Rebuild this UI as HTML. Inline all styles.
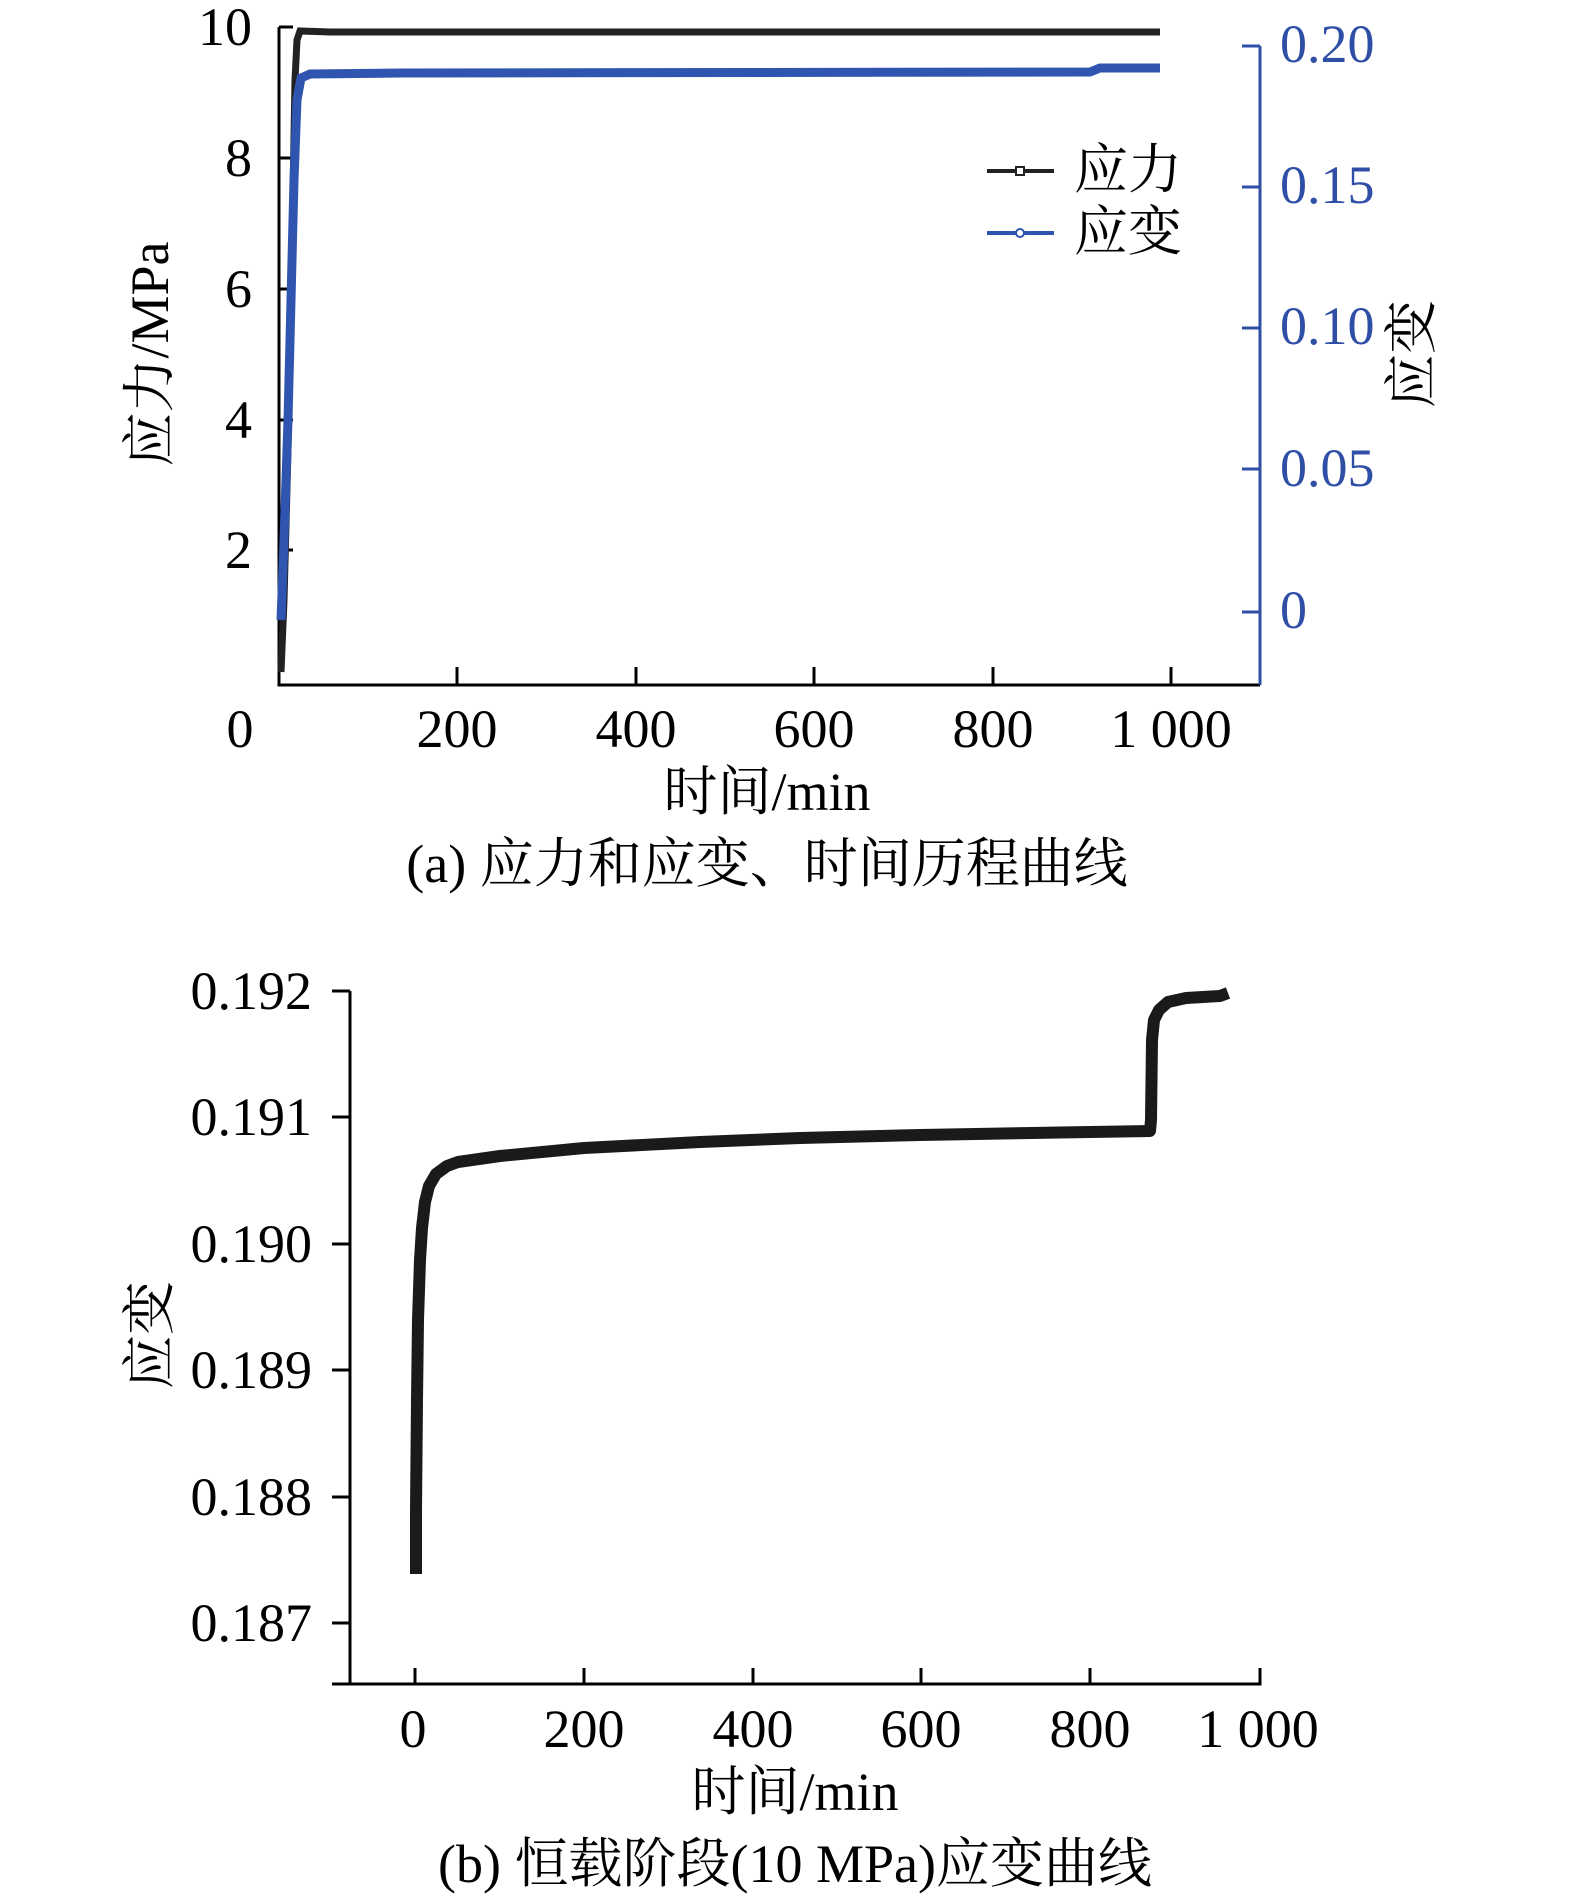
<!DOCTYPE html>
<html><head><meta charset="utf-8"><style>
html,body{margin:0;padding:0;background:#fff}
svg{display:block}
text{font-family:"Liberation Serif","Noto Serif CJK SC","Noto Sans CJK SC",serif}
</style></head><body>
<svg width="1575" height="1901" viewBox="0 0 1575 1901" xmlns="http://www.w3.org/2000/svg">
<!-- Top chart -->
<g fill="none" stroke="#000" stroke-width="3">
<path d="M279,27 V685 H1260"/>
<path d="M279,27 H293 M279,158 H293 M279,289 H293 M279,420 H293 M279,550 H293"/>
<path d="M457,685 V667 M636,685 V667 M814,685 V667 M993,685 V667 M1171,685 V667"/>
</g>
<g fill="none" stroke="#2f4ea6" stroke-width="3">
<path d="M1260,685 V46"/>
<path d="M1260,46 H1242 M1260,187 H1242 M1260,328 H1242 M1260,469 H1242 M1260,612 H1242"/>
</g>
<g font-size="54" text-anchor="end">
<text x="252" y="45">10</text><text x="252" y="176">8</text><text x="252" y="307">6</text><text x="252" y="438">4</text><text x="252" y="568">2</text>
</g>
<g font-size="54" text-anchor="middle">
<text x="240" y="747">0</text><text x="457" y="747">200</text><text x="636" y="747">400</text><text x="814" y="747">600</text><text x="993" y="747">800</text><text x="1171" y="747">1 000</text>
</g>
<g font-size="54" fill="#2f4ea6">
<text x="1280" y="62">0.20</text><text x="1280" y="203">0.15</text><text x="1280" y="344">0.10</text><text x="1280" y="486">0.05</text><text x="1280" y="628">0</text>
</g>
<text x="767" y="810" font-size="54" text-anchor="middle">时间/min</text>
<text x="767" y="882" font-size="54" text-anchor="middle">(a) 应力和应变、时间历程曲线</text>
<text transform="translate(168,354) rotate(-90)" font-size="54" text-anchor="middle">应力/MPa</text>
<text transform="translate(1430,354) rotate(-90)" font-size="54" text-anchor="middle">应变</text>
<!-- series -->
<path d="M281,672 L284,600 L288,450 L292,250 L295,80 L297,40 L300,31 L330,32 L1160,32" fill="none" stroke="#222" stroke-width="7"/>
<path d="M281,620 L284,540 L288,420 L291,300 L294,180 L297,100 L301,78 L310,74 L400,73 L1090,72 L1100,68 L1160,68" fill="none" stroke="#2f55b0" stroke-width="9"/>
<!-- legend -->
<path d="M987,171 H1054" stroke="#222" stroke-width="4"/><rect x="1016" y="167" width="8" height="8" fill="#fff" stroke="#222" stroke-width="2"/>
<path d="M987,233 H1054" stroke="#2f55b0" stroke-width="4"/><circle cx="1020" cy="233" r="4" fill="#fff" stroke="#2f55b0" stroke-width="2"/>
<text x="1074" y="188" font-size="54">应力</text>
<text x="1074" y="250" font-size="54">应变</text>

<!-- Bottom chart -->
<g fill="none" stroke="#000" stroke-width="3">
<path d="M332,1684 H1260 V1668"/>
<path d="M415,1684 V1668 M584,1684 V1668 M753,1684 V1668 M921,1684 V1668 M1090,1684 V1668"/>
<path d="M350,991 V1684"/>
<path d="M350,991 H332 M350,1117 H332 M350,1244 H332 M350,1370 H332 M350,1497 H332 M350,1623 H332"/>
</g>
<g font-size="54" text-anchor="end">
<text x="312" y="1009">0.192</text><text x="312" y="1135">0.191</text><text x="312" y="1262">0.190</text><text x="312" y="1388">0.189</text><text x="312" y="1515">0.188</text><text x="312" y="1641">0.187</text>
</g>
<g font-size="54" text-anchor="middle">
<text x="413" y="1747">0</text><text x="584" y="1747">200</text><text x="753" y="1747">400</text><text x="921" y="1747">600</text><text x="1090" y="1747">800</text><text x="1258" y="1747">1 000</text>
</g>
<text x="795" y="1810" font-size="54" text-anchor="middle">时间/min</text>
<text x="795" y="1882" font-size="54" text-anchor="middle">(b) 恒载阶段(10 MPa)应变曲线</text>
<text transform="translate(168,1335) rotate(-90)" font-size="54" text-anchor="middle">应变</text>
<path d="M416,1574 L416,1510 L417,1400 L418,1320 L420,1260 L422,1228 L425,1202 L429,1186 L436,1174 L447,1166 L458,1162 L500,1156 L584,1148 L700,1142 L800,1138 L920,1135 L1090,1132 L1150,1131 L1151,1120 L1152,1040 L1154,1020 L1159,1010 L1168,1002 L1186,998 L1220,996 L1228,993" fill="none" stroke="#1a1a1a" stroke-width="12" stroke-linejoin="round"/>
</svg>
</body></html>
